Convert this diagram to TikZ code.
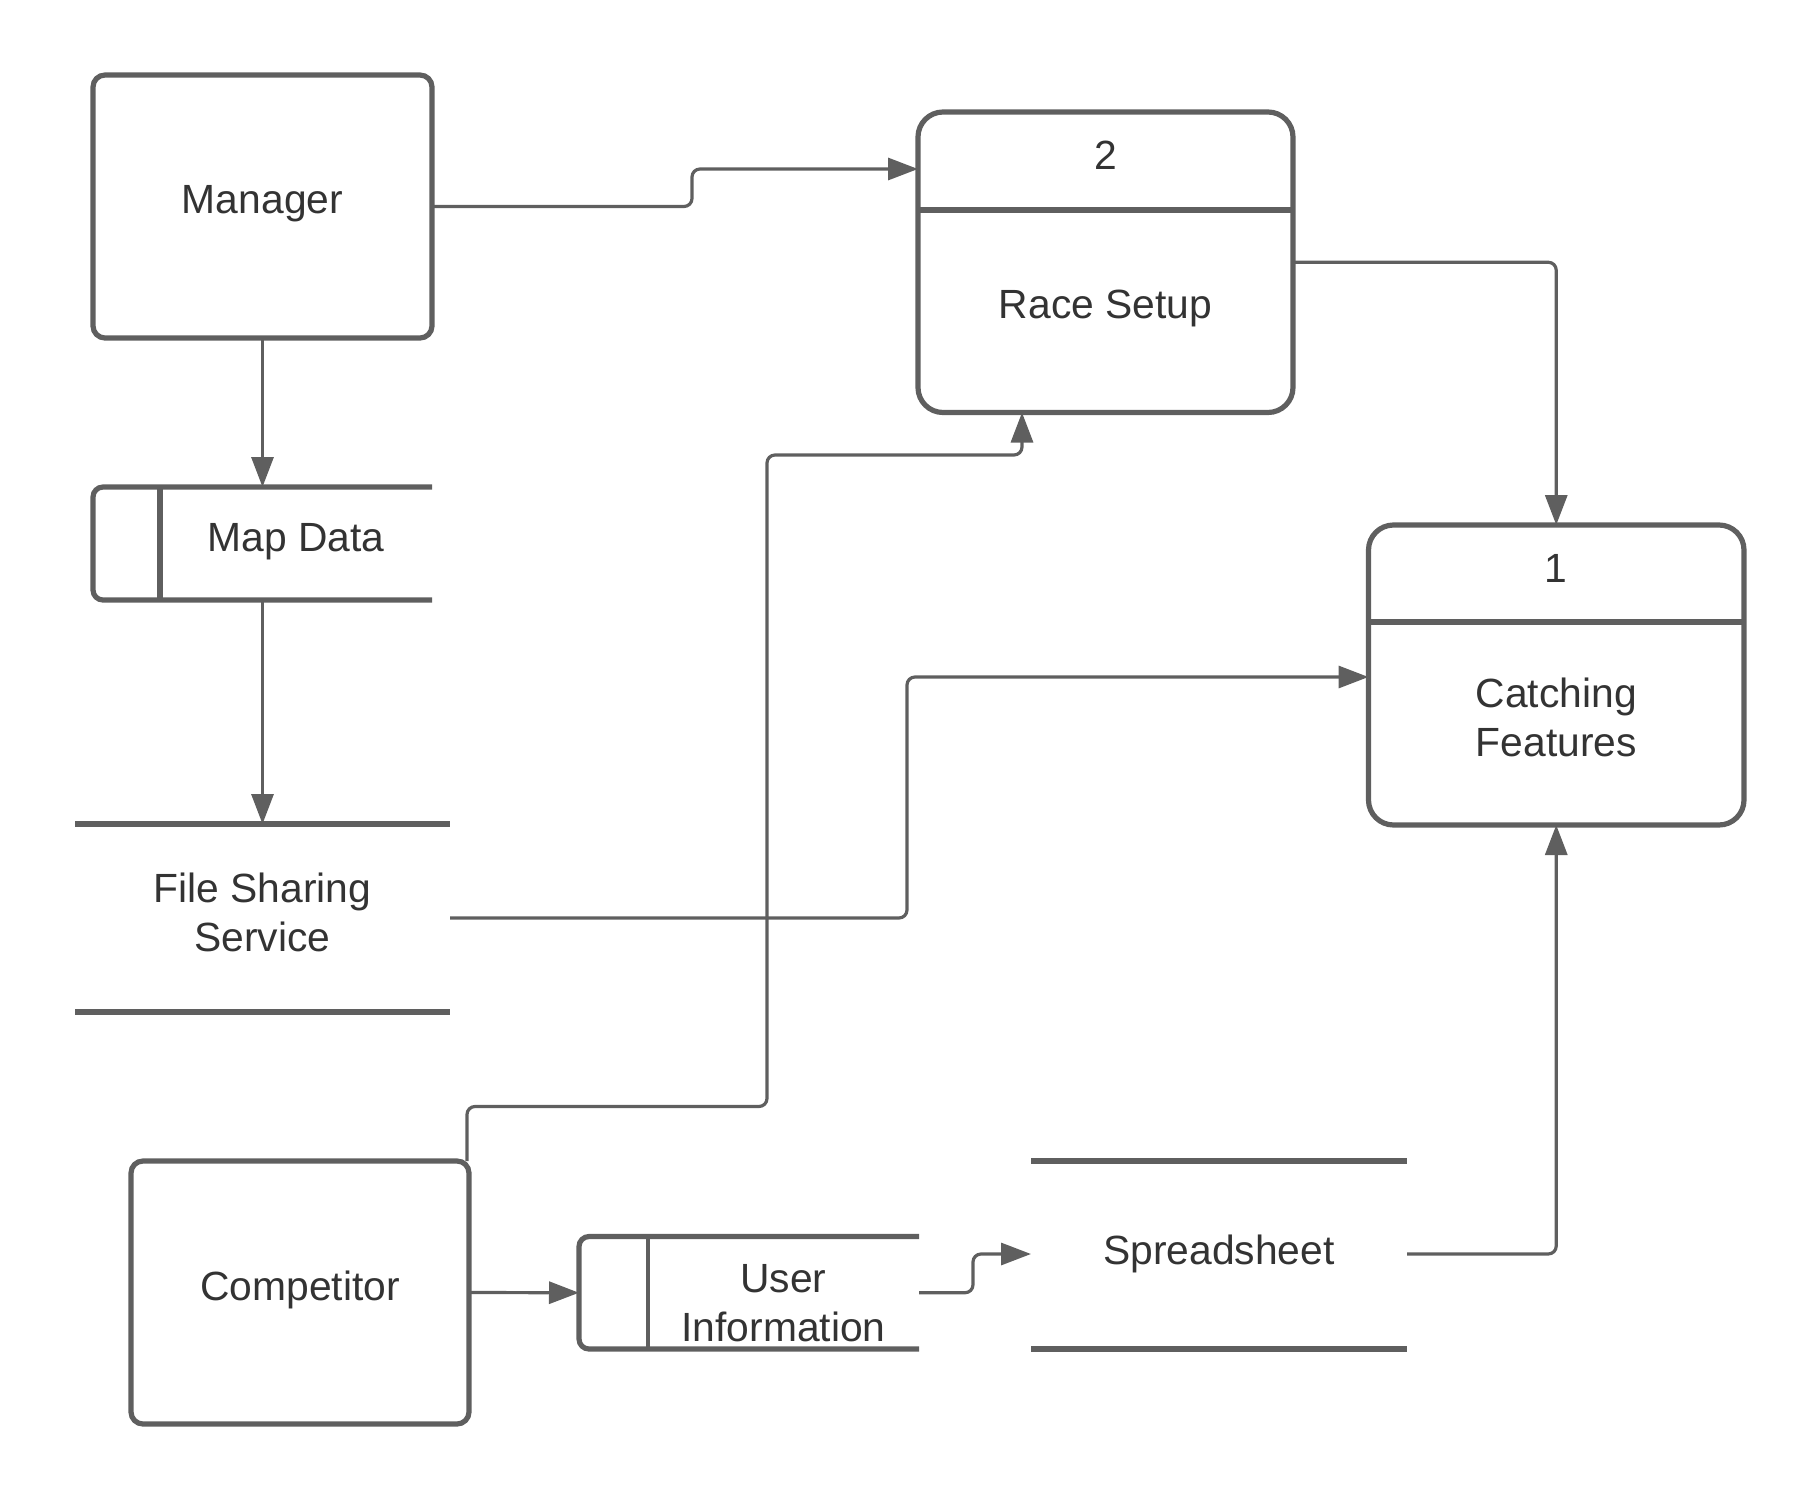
\documentclass[tikz,border=0pt]{standalone}
\usepackage{fontspec}
\setmainfont{Liberation Sans}
\usetikzlibrary{arrows.meta,calc}
\definecolor{ln}{HTML}{5F5F5F}
\definecolor{tx}{HTML}{333333}
\begin{document}
\begin{tikzpicture}[x=0.5pt,y=-0.5pt,
  font=\fontsize{20.4}{24.5}\selectfont,
  box/.style={draw=ln, line width=2.6pt, rounded corners=6pt, inner sep=0pt, outer sep=0pt, text=tx, align=center},
  holder/.style={inner sep=0pt, outer sep=0pt, text=tx, align=center},
  txt/.style={text=tx, align=center},
  store/.style={draw=ln, line width=2.6pt},
  flow/.style={draw=ln, line width=1.6pt, rounded corners=4pt, -{Triangle[length=15pt,width=11pt]}}
]
\useasboundingbox (0,0) rectangle (1817,1500);

% external entities
\node[box, minimum width=169.5pt, minimum height=131.5pt] (manager) at (262.5,206.5) {};
\node[txt] (managertext) at (262.5,203.5) {Manager};
\node[box, minimum width=169pt, minimum height=131.5pt] (comp) at (300,1292.5) {};
\node[txt] (comptext) at (300,1289.5) {Competitor};

% processes
\node[box, rounded corners=12.5pt, minimum width=187.5pt, minimum height=150.25pt] (race) at (1105.5,262.25) {};
\draw[store] (race.west |- 0,210) -- (race.east |- 0,210);
\node[txt] (racenum) at (1105.5,155) {2};
\node[txt] (racename) at (1105.5,308.5) {Race Setup};

\node[box, rounded corners=12.5pt, minimum width=187.75pt, minimum height=150pt] (catch) at (1556.25,675) {};
\draw[store] (catch.west |- 0,622) -- (catch.east |- 0,622);
\node[txt] (catchnum) at (1556.25,568) {1};
\node[txt] (catchname) at (1556.25,717) {Catching\\Features};

% data stores
\node[holder, minimum width=169.5pt, minimum height=56.5pt] (mapdata) at (262.5,543.5) {};
\draw[store, rounded corners=5pt] (mapdata.north east) -- (mapdata.north west) -- (mapdata.south west) -- (mapdata.south east);
\draw[store] ([xshift=33.5pt]mapdata.north west) -- ([xshift=33.5pt]mapdata.south west);
\node[txt] (maptext) at (296,541.5) {Map Data};

\node[holder, minimum width=187.5pt, minimum height=94pt] (fss) at (262.5,918) {};
\draw[store] (fss.north west) -- (fss.north east);
\draw[store] (fss.south west) -- (fss.south east);
\node[txt] (fsstext) at (262.5,912) {File Sharing\\Service};

\node[holder, minimum width=170pt, minimum height=56.25pt] (userinfo) at (749,1292.75) {};
\draw[store, rounded corners=5pt] (userinfo.north east) -- (userinfo.north west) -- (userinfo.south west) -- (userinfo.south east);
\draw[store, line width=2pt] ([xshift=34.5pt]userinfo.north west) -- ([xshift=34.5pt]userinfo.south west);
\node[txt] (uitext) at (783.5,1303.5) {User\\Information};

\node[holder, minimum width=188pt, minimum height=94pt] (spread) at (1219,1255) {};
\draw[store] (spread.north west) -- (spread.north east);
\draw[store] (spread.south west) -- (spread.south east);
\node[txt] (spreadtext) at (1219,1253.5) {Spreadsheet};

% flows
\draw[flow] (manager.east) -- (692,206.5) -- (692,169) -- (race.west |- 0,169);
\draw[flow] (race.east) -| (catch.north);
\draw[flow] (manager.south) -- (mapdata.north);
\draw[flow] (mapdata.south) -- (fss.north);
\draw[flow] (fss.east) -- (907,918) -- (907,677) -- (catch.west |- 0,677);
\draw[flow] ([xshift=-1pt]comp.north east) -- (467,1106.5) -- (767,1106.5) -- (767,455) -- (1022,455) -- (race.south -| 1022,0);
\draw[flow] (comp.east) -- (userinfo.west);
\draw[flow] (userinfo.east) -- (973,1292.75) -- (973,1254) -- (spread.west |- 0,1254);
\draw[flow] (spread.east |- 0,1254) -| (catch.south);
\end{tikzpicture}
\end{document}
